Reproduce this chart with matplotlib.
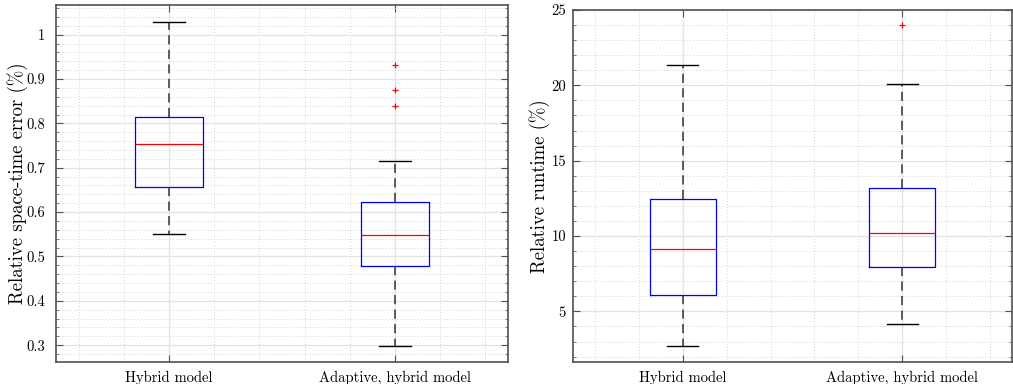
import matplotlib
matplotlib.use("Agg")
import matplotlib.pyplot as plt
from matplotlib.ticker import FixedLocator, MultipleLocator

plt.rcParams['font.family'] = ['cmr10', 'DejaVu Serif']
plt.rcParams['axes.formatter.use_mathtext'] = True
plt.rcParams['mathtext.fontset'] = 'cm'

categories = ["Hybrid model", "Adaptive, hybrid model"]

# Relative space-time error (%)
err_whislo = [0.550, 0.2985]
err_q1 = [0.6556, 0.4782]
err_med = [0.7526, 0.5473]
err_q3 = [0.8135, 0.6217]
err_whishi = [1.029, 0.7142]
err_fliers = [[], [0.9316, 0.8744, 0.839]]

# Relative runtime (%)
rt_whislo = [2.68, 4.16]
rt_q1 = [6.11, 7.93]
rt_med = [9.12, 10.18]
rt_q3 = [12.44, 13.17]
rt_whishi = [21.33, 20.09]
rt_fliers = [[], [24.0]]

err_yticks = [0.3, 0.4, 0.5, 0.6, 0.7, 0.8, 0.9, 1.0]
err_yticklabels = ["0.3", "0.4", "0.5", "0.6", "0.7", "0.8", "0.9", "1"]
rt_yticks = [5, 10, 15, 20, 25]


def stats(lo, q1, med, q3, hi, fl, labels):
    out = []
    for i in range(len(labels)):
        out.append(dict(whislo=lo[i], q1=q1[i], med=med[i], q3=q3[i],
                        whishi=hi[i], fliers=fl[i], label=labels[i]))
    return out


W, H = 1013, 384
fig = plt.figure(figsize=(W / 100, H / 100), dpi=100)
ax1 = fig.add_axes([56 / W, 22 / H, 452 / W, 357 / H])
ax2 = fig.add_axes([573 / W, 22 / H, 439 / W, 352 / H])

frame_col = '#505050'


def draw(ax, st, ylim, yticks, yticklabels, ylabel, yminor, ypad, labelx):
    ax.bxp(st, positions=[1, 2], widths=0.3, capwidths=0.14,
           showfliers=True, patch_artist=False,
           boxprops=dict(color='blue', linewidth=0.9),
           medianprops=dict(color='red', linewidth=0.9),
           whiskerprops=dict(color='#333333', linewidth=1.1, linestyle=(0, (6, 3.5))),
           capprops=dict(color='black', linewidth=1.0),
           flierprops=dict(marker='+', markeredgecolor='red', markersize=5,
                           markeredgewidth=0.9, linestyle='none'),
           zorder=3)
    ax.set_xlim(0.5, 2.5)
    ax.set_ylim(*ylim)
    ax.set_xticks([1, 2])
    ax.set_xticklabels(categories, fontsize=10.5)
    ax.xaxis.set_minor_locator(FixedLocator([0.6, 0.8, 1.2, 1.4, 1.6, 1.8, 2.2, 2.4]))
    ax.set_yticks(yticks)
    ax.set_yticklabels(yticklabels, fontsize=10.5)
    ax.yaxis.set_minor_locator(MultipleLocator(yminor))
    ax.grid(True, which='major', color='#e3e3e3', linewidth=0.9, linestyle='-', zorder=0)
    ax.grid(True, which='minor', color='#c4c4c4', linewidth=0.6, linestyle=(0, (1, 2.5)), zorder=0)
    ax.set_axisbelow(True)
    ax.tick_params(which='major', direction='in', length=5, width=0.8, color=frame_col,
                   top=True, right=True)
    ax.tick_params(axis='x', which='major', pad=6)
    ax.tick_params(axis='y', which='major', pad=ypad)
    ax.tick_params(axis='y', which='minor', direction='in', length=2.5, width=0.5,
                   color=frame_col, left=True, right=True)
    ax.tick_params(axis='x', which='minor', length=0)
    for s in ax.spines.values():
        s.set_color(frame_col)
        s.set_linewidth(1.2)
    ax.set_ylabel(ylabel, fontsize=13.5, va='center')
    ax.yaxis.set_label_coords(labelx, 0.5)


draw(ax1, stats(err_whislo, err_q1, err_med, err_q3, err_whishi, err_fliers, categories),
     (0.262, 1.067), err_yticks, err_yticklabels, "Relative space-time error (%)", 0.02, 8,
     (17.5 - 56) / 452)
draw(ax2, stats(rt_whislo, rt_q1, rt_med, rt_q3, rt_whishi, rt_fliers, categories),
     (1.64, 25.0), rt_yticks, [str(v) for v in rt_yticks], "Relative runtime (%)", 1.0, 5,
     (539.5 - 573) / 439)

fig.savefig("out.png", dpi=100)
